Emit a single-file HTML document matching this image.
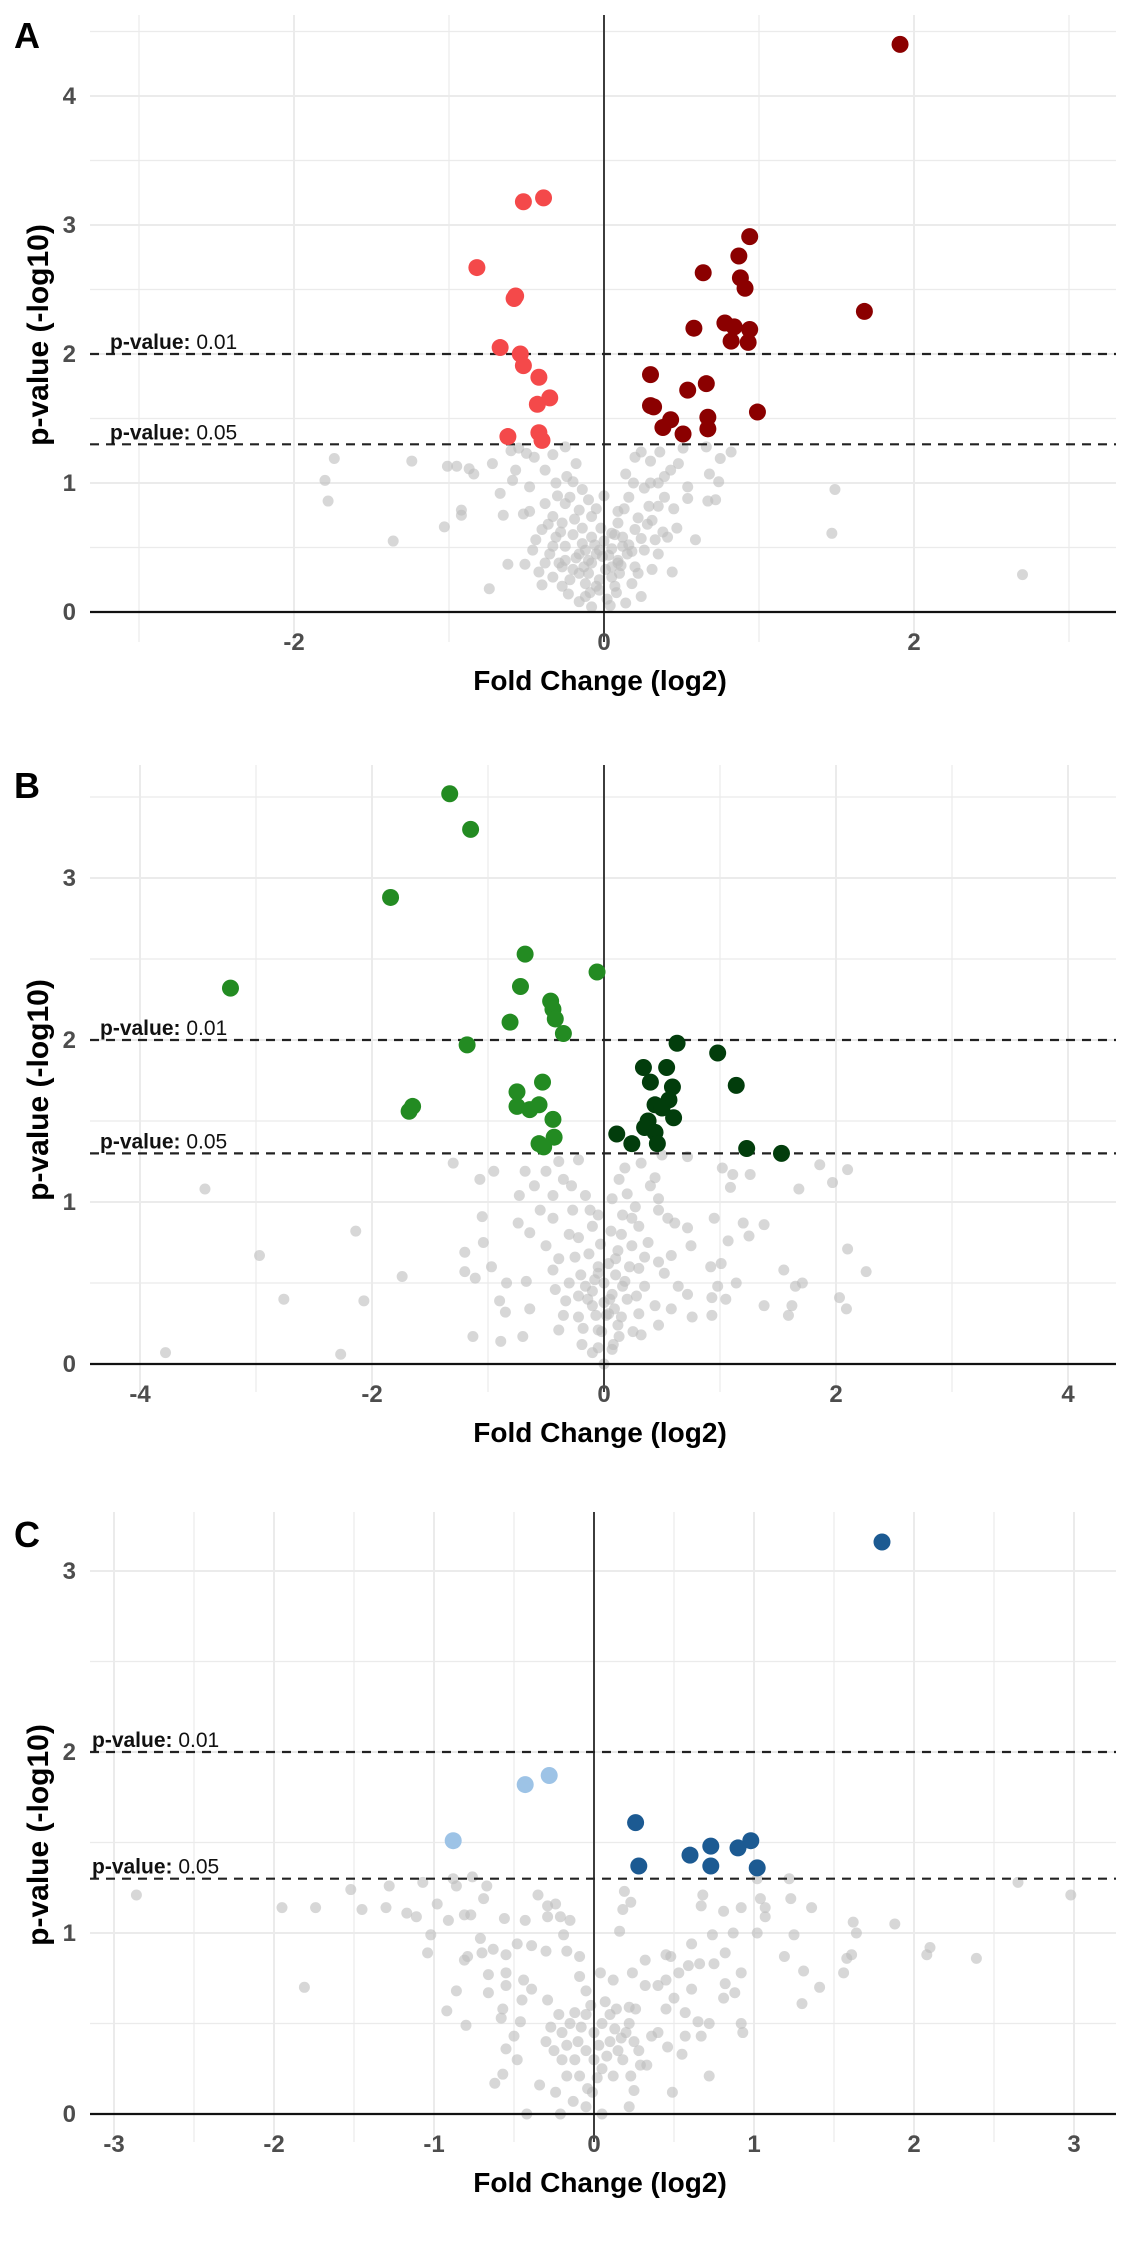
<!DOCTYPE html>
<html><head><meta charset="utf-8"><style>
html,body{margin:0;padding:0;background:#fff;}
svg{display:block;font-family:"Liberation Sans",Arial,sans-serif;}
</style></head><body>
<svg id="fig" width="1124" height="2244" viewBox="0 0 1124 2244" xmlns="http://www.w3.org/2000/svg"></svg>
<script>
// ---------- Panel A data ----------
const aTickX = [-2, 0, 2];
const aTickY = [0, 1, 2, 3, 4];
const aDown = [[-0.52,3.18],[-0.39,3.21],[-0.82,2.67],[-0.58,2.43],[-0.57,2.45],[-0.67,2.05],[-0.54,2.0],[-0.52,1.91],[-0.42,1.82],[-0.35,1.66],[-0.43,1.61],[-0.62,1.36],[-0.42,1.39],[-0.40,1.33]];
const aUp = [[1.91,4.4],[0.94,2.91],[0.87,2.76],[0.64,2.63],[0.88,2.59],[0.91,2.51],[1.68,2.33],[0.58,2.20],[0.78,2.24],[0.84,2.21],[0.94,2.19],[0.82,2.10],[0.93,2.09],[0.30,1.84],[0.54,1.72],[0.66,1.77],[0.30,1.60],[0.32,1.59],[0.99,1.55],[0.43,1.49],[0.38,1.43],[0.67,1.51],[0.67,1.42],[0.51,1.38]];
const aGrey = [[-1.74,1.19],[-1.24,1.17],[-1.80,1.02],[-1.78,0.86],[-1.36,0.55],[-1.01,1.13],[-0.95,1.13],[-0.87,1.11],[-0.84,1.07],[-0.72,1.15],[-0.67,0.92],[-0.92,0.79],[-0.92,0.75],[-1.03,0.66],[-0.74,0.18],[-0.62,0.37],[-0.51,0.37],[1.49,0.95],[1.47,0.61],[2.70,0.29],[0.68,1.07],[0.74,1.01],[0.75,1.19],[0.72,0.87],[0.67,0.86],[0.59,0.56],[0.44,0.31],[0.47,0.65],[0.54,0.88],[0.54,0.97],[0.82,1.24],[0.66,1.28],[0.51,1.27],[0.36,1.24],[0.30,1.17],[0.24,1.24],[0.14,1.07],[-0.55,1.27],[-0.50,1.23],[-0.33,1.22],[-0.25,1.28],[-0.18,1.15],[-0.20,1.01],[-0.59,1.02],[-0.57,1.10],[-0.38,1.10],[-0.31,1.00],[-0.22,0.89],[-0.52,0.76],[-0.48,0.78],[-0.65,0.75],[-0.40,0.64],[-0.27,0.69],[-0.14,0.65],[-0.08,0.58],[0.05,0.61],[0.12,0.58],[0.22,0.73],[0.24,0.57],[0.33,0.56],[0.16,0.89],[0.26,0.96],[0.35,1.00],[0.39,1.05],[0.43,1.10],[0.48,1.15],[0.35,0.82],[0.29,0.82],[0.18,0.47],[0.35,0.45],[0.09,0.38],[0.01,0.33],[-0.08,0.38],[-0.16,0.45],[-0.25,0.51],[-0.33,0.51],[-0.31,0.58],[-0.38,0.38],[-0.42,0.31],[-0.33,0.27],[-0.20,0.33],[-0.12,0.22],[-0.03,0.17],[0.07,0.20],[0.18,0.22],[0.24,0.12],[0.14,0.07],[-0.08,0.04],[-0.16,0.08],[-0.23,0.14],[-0.40,0.21],[-0.27,0.20],[0.05,0.27],[0.09,0.40],[-0.03,0.48],[-0.14,0.53],[-0.25,0.40],[-0.08,0.74],[-0.38,0.84],[-0.33,0.74],[-0.25,0.84],[-0.16,0.79],[-0.01,0.43],[0.12,0.51],[0.31,0.71],[0.39,0.89],[0.41,0.58],[0.20,0.35],[0.31,0.33],[0.09,0.69],[-0.14,0.95],[-0.10,0.87],[0.09,0.78],[0.20,0.64],[-0.48,0.97],[-0.46,0.48],[-0.29,0.38],[-0.16,0.30],[0.05,0.49],[-0.03,0.25],[-0.10,0.40],[-0.05,0.45],[0.0,0.55],[0.05,0.35],[-0.1,0.3],[0.1,0.3],[-0.2,0.6],[0.15,0.45],[-0.05,0.2],[0.02,0.1],[-0.12,0.12],[-0.6,1.25],[-0.45,1.2],[0.3,1.0],[0.2,1.2],[-0.18,0.42],[-0.06,0.52],[0.03,0.44],[0.11,0.36],[-0.22,0.25],[-0.13,0.35],[0.07,0.6],[0.16,0.52],[-0.28,0.62],[-0.35,0.45],[0.26,0.48],[0.22,0.3],[-0.02,0.65],[-0.09,0.15],[0.04,0.05],[-0.19,0.72],[0.13,0.8],[-0.3,0.9],[0.28,0.68],[-0.44,0.56],[0.38,0.62],[-0.05,0.8],[0.19,1.0],[-0.24,1.05],[0.0,0.9],[-0.36,0.68],[0.45,0.8],[-0.12,0.48],[0.08,0.15],[-0.27,0.35]];

// ---------- Panel B data ----------
const bTickX = [-4, -2, 0, 2, 4];
const bTickY = [0, 1, 2, 3];
const bDown = [[-1.33,3.52],[-1.15,3.30],[-1.84,2.88],[-0.68,2.53],[-0.06,2.42],[-3.22,2.32],[-0.72,2.33],[-0.46,2.24],[-0.44,2.19],[-0.42,2.13],[-0.35,2.04],[-0.81,2.11],[-1.18,1.97],[-0.53,1.74],[-0.75,1.68],[-0.75,1.59],[-0.64,1.57],[-0.56,1.60],[-1.68,1.56],[-1.65,1.59],[-0.44,1.51],[-0.43,1.40],[-0.56,1.36],[-0.52,1.34]];
const bUp = [[0.63,1.98],[0.98,1.92],[0.34,1.83],[0.54,1.83],[0.40,1.74],[0.59,1.71],[1.14,1.72],[0.56,1.63],[0.44,1.60],[0.50,1.58],[0.60,1.52],[0.38,1.50],[0.35,1.46],[0.44,1.43],[0.11,1.42],[0.24,1.36],[0.46,1.36],[1.23,1.33],[1.53,1.30]];
const bGrey = [[-3.44,1.08],[-3.78,0.07],[-2.97,0.67],[-2.76,0.40],[-2.27,0.06],[-2.14,0.82],[-2.07,0.39],[-1.74,0.54],[-1.30,1.24],[-1.07,1.14],[-0.95,1.19],[-1.05,0.91],[-1.04,0.75],[-1.20,0.69],[-1.20,0.57],[-1.11,0.53],[-0.97,0.60],[-0.84,0.50],[-0.90,0.39],[-0.85,0.32],[-1.13,0.17],[-0.89,0.14],[-0.70,0.17],[-0.64,0.34],[-0.67,0.51],[-0.74,0.87],[-0.64,0.81],[-0.73,1.04],[-0.68,1.19],[-0.50,1.19],[-0.39,1.25],[-0.22,1.26],[-0.35,1.14],[-0.44,1.04],[-0.27,0.95],[-0.44,0.90],[-0.50,0.73],[-0.39,0.65],[-0.44,0.58],[-0.42,0.46],[-0.33,0.39],[-0.22,0.29],[-0.39,0.21],[-0.19,0.12],[-0.10,0.07],[0.07,0.09],[0.13,0.17],[-0.05,0.21],[0.04,0.31],[-0.10,0.36],[-0.16,0.48],[-0.05,0.56],[-0.13,0.68],[-0.22,0.78],[-0.10,0.85],[-0.05,0.92],[-0.16,1.04],[0.07,1.02],[0.13,1.14],[0.18,1.21],[0.32,1.24],[0.50,1.29],[0.72,1.28],[0.44,1.15],[0.47,1.02],[0.27,0.97],[0.47,0.95],[0.61,0.87],[0.30,0.85],[0.15,0.80],[0.24,0.73],[0.38,0.75],[0.58,0.67],[0.47,0.63],[0.30,0.59],[0.18,0.51],[0.35,0.48],[0.52,0.56],[0.64,0.48],[0.72,0.43],[0.58,0.34],[0.44,0.36],[0.30,0.31],[0.47,0.24],[0.32,0.18],[0.15,0.29],[0.07,0.43],[0.10,0.65],[0.24,0.90],[0.75,0.73],[0.72,0.84],[0.95,0.90],[1.09,1.09],[1.11,1.17],[1.26,1.17],[1.02,1.21],[1.20,0.87],[1.25,0.79],[1.38,0.86],[1.07,0.76],[0.92,0.60],[1.01,0.62],[0.98,0.48],[1.14,0.50],[0.93,0.41],[1.05,0.40],[0.93,0.30],[0.76,0.29],[1.38,0.36],[1.55,0.58],[1.62,0.36],[1.59,0.30],[1.65,0.48],[1.71,0.50],[1.68,1.08],[1.86,1.23],[1.97,1.12],[2.10,1.20],[2.10,0.71],[2.03,0.41],[2.09,0.34],[2.26,0.57],[0.0,0.5],[0.05,0.4],[-0.05,0.6],[0.1,0.55],[-0.1,0.45],[0.02,0.3],[0.12,0.7],[-0.2,0.55],[0.2,0.4],[-0.02,0.2],[-0.3,0.8],[0.2,1.05],[-0.6,1.1],[0.0,0.0],[-0.05,0.1],[-0.08,0.52],[0.04,0.62],[0.09,0.34],[-0.14,0.4],[0.16,0.48],[-0.03,0.74],[0.22,0.6],[-0.25,0.66],[0.12,0.24],[-0.18,0.22],[0.06,0.82],[-0.3,0.5],[0.28,0.42],[0.0,0.38],[-0.12,0.95],[0.16,0.92],[-0.35,0.3],[0.35,0.66],[-0.07,0.3],[0.08,0.12],[-0.22,0.42],[0.25,0.2],[-0.55,0.95],[0.55,0.9],[-0.28,1.1],[0.4,1.1]];

// ---------- Panel C data ----------
const cTickX = [-3, -2, -1, 0, 1, 2, 3];
const cTickY = [0, 1, 2, 3];
const cDown = [[-0.43,1.82],[-0.28,1.87],[-0.88,1.51]];
const cUp = [[1.80,3.16],[0.26,1.61],[0.28,1.37],[0.60,1.43],[0.73,1.48],[0.73,1.37],[0.90,1.47],[0.98,1.51],[1.02,1.36]];
const cGrey = [[-2.86,1.21],[-1.95,1.14],[-1.74,1.14],[-1.52,1.24],[-1.45,1.13],[-1.30,1.14],[-1.28,1.26],[-1.17,1.11],[-1.11,1.09],[-1.07,1.28],[-0.98,1.16],[-0.88,1.30],[-0.86,1.26],[-0.76,1.31],[-0.67,1.26],[-0.69,1.19],[-0.81,1.10],[-0.77,1.10],[-0.91,1.07],[-0.56,1.08],[-0.43,1.07],[-0.35,1.21],[-0.29,1.15],[-0.24,1.16],[-0.29,1.09],[-0.21,1.09],[-0.15,1.07],[0.19,1.23],[0.23,1.17],[0.18,1.13],[0.68,1.21],[0.67,1.15],[0.81,1.12],[0.92,1.14],[1.04,1.19],[1.07,1.14],[1.07,1.09],[1.22,1.30],[1.23,1.19],[1.36,1.14],[1.62,1.06],[1.88,1.05],[2.65,1.28],[2.98,1.21],[1.02,1.30],[-1.02,0.99],[-1.04,0.89],[-0.81,0.85],[-0.79,0.87],[-0.70,0.89],[-0.63,0.91],[-0.55,0.88],[-0.48,0.94],[-0.39,0.93],[-0.30,0.90],[-0.17,0.90],[-0.09,0.87],[-0.19,0.99],[-0.71,0.97],[-1.81,0.70],[-0.86,0.68],[-0.92,0.57],[-0.80,0.49],[-0.66,0.77],[-0.55,0.78],[-0.66,0.67],[-0.55,0.71],[-0.44,0.74],[-0.39,0.69],[-0.29,0.63],[-0.45,0.63],[-0.57,0.58],[-0.58,0.53],[-0.46,0.51],[-0.50,0.43],[-0.55,0.36],[-0.48,0.30],[-0.57,0.22],[-0.62,0.17],[-0.34,0.16],[-0.24,0.12],[-0.17,0.21],[-0.09,0.21],[-0.01,0.12],[0.12,0.21],[0.23,0.21],[0.25,0.13],[0.22,0.04],[-0.05,0.04],[-0.13,0.07],[-0.21,0.0],[-0.42,0.0],[0.05,0.0],[-0.09,0.76],[-0.05,0.68],[0.04,0.78],[0.12,0.74],[0.24,0.78],[0.32,0.85],[0.45,0.88],[0.48,0.87],[0.32,0.71],[0.40,0.71],[0.45,0.74],[0.53,0.78],[0.59,0.82],[0.66,0.83],[0.75,0.83],[0.82,0.89],[0.92,0.78],[0.82,0.72],[0.88,0.67],[0.81,0.64],[0.61,0.69],[0.50,0.64],[0.45,0.58],[0.57,0.56],[0.65,0.51],[0.72,0.50],[0.92,0.50],[0.93,0.45],[0.67,0.43],[0.57,0.43],[0.40,0.45],[0.36,0.43],[0.46,0.37],[0.55,0.33],[0.33,0.27],[0.29,0.27],[0.49,0.12],[0.72,0.21],[1.19,0.87],[1.31,0.79],[1.41,0.70],[1.30,0.61],[1.56,0.78],[1.58,0.86],[1.61,0.88],[2.08,0.88],[2.10,0.92],[2.39,0.86],[1.64,1.00],[1.25,0.99],[1.02,1.00],[0.74,0.99],[0.87,1.00],[0.61,0.94],[0.16,1.01],[0.22,0.59],[0.26,0.58],[0.14,0.58],[-0.2,0.45],[-0.15,0.5],[-0.1,0.4],[-0.05,0.35],[0,0.45],[0.05,0.5],[0.1,0.4],[0.15,0.35],[0.2,0.45],[0.25,0.4],[-0.25,0.35],[-0.3,0.4],[0,0.3],[0.05,0.25],[-0.05,0.55],[0.1,0.55],[0.18,0.3],[-0.12,0.3],[0.22,0.5],[-0.2,0.3],[-0.08,0.48],[0.03,0.38],[0.13,0.47],[-0.17,0.38],[0.08,0.32],[-0.02,0.6],[0.17,0.42],[-0.27,0.48],[0.28,0.35],[-0.12,0.56],[0.07,0.62],[-0.22,0.55],[0.02,0.2],[-0.04,0.14]];

const threshY = [2, 1.3];
const threshLabel = ["0.01", "0.05"];

const NS = "http://www.w3.org/2000/svg";
const svg = document.getElementById("fig");
function mk(tag, attrs, parent) {
  const e = document.createElementNS(NS, tag);
  for (const k in attrs) e.setAttribute(k, attrs[k]);
  (parent || svg).appendChild(e);
  return e;
}

const panels = [
  {id:"a", letter:"A", x0:604, kx:155, y0:612, ky:129, top:15, bottom:642, xmin:-3, xmax:3, xstep:1, ymax:4.5,
   tickX:aTickX, tickY:aTickY, down:aDown, up:aUp, grey:aGrey, cDown:"#f4494a", cUp:"#8b0000", annX:110, letterY:48, ylabY:335},
  {id:"b", letter:"B", x0:604, kx:116, y0:1364, ky:162, top:765, bottom:1392, xmin:-4, xmax:4, xstep:1, ymax:3.5,
   tickX:bTickX, tickY:bTickY, down:bDown, up:bUp, grey:bGrey, cDown:"#238b22", cUp:"#023d0c", annX:100, letterY:798, ylabY:1090},
  {id:"c", letter:"C", x0:594, kx:160, y0:2114, ky:181, top:1512, bottom:2142, xmin:-3, xmax:3, xstep:0.5, ymax:3,
   tickX:cTickX, tickY:cTickY, down:cDown, up:cUp, grey:cGrey, cDown:"#9dc3e6", cUp:"#1c5a92", annX:92, letterY:1547, ylabY:1835}
];
const L = 90, R = 1116;

panels.forEach(p => {
  const sx = v => p.x0 + v * p.kx;
  const sy = v => p.y0 - v * p.ky;
  const g = mk("g", {});
  
  

  const grid = mk("g", {stroke:"#ebebeb"}, g);
  
  
  for (let v = 0; v <= p.ymax + 1e-9; v += 0.5) {
    const major = Math.abs(v - Math.round(v)) < 1e-9;
    mk("line", {x1:L, x2:R, y1:sy(v), y2:sy(v), "stroke-width": major ? 2 : 1.2}, grid);
  }
  for (let v = p.xmin; v <= p.xmax + 1e-9; v += p.xstep) {
    const major = p.tickX.some(t => Math.abs(t - v) < 1e-9);
    mk("line", {x1:sx(v), x2:sx(v), y1:p.top, y2:p.bottom, "stroke-width": major ? 2 : 1.2}, grid);
  }

  const gg = mk("g", {fill:"#bdbdbd", "fill-opacity":"0.6"}, g);
  
  
  p.grey.forEach(d => {
    const c = mk("circle", {cx:sx(d[0]), cy:sy(d[1]), r:5.5}, gg);
    
    
  });

  const ax = mk("line", {x1:L, x2:R, y1:sy(0), y2:sy(0), stroke:"#111", "stroke-width":2.2}, g);
  
  
  const ay = mk("line", {x1:sx(0), x2:sx(0), y1:p.top, y2:p.bottom, stroke:"#111", "stroke-width":1.6}, g);
  
  

  threshY.forEach((t, i) => {
    const dl = mk("line", {x1:L, x2:R, y1:sy(t), y2:sy(t), stroke:"#222", "stroke-width":2.2, "stroke-dasharray":"9 7"}, g);
    
    
    const tx = mk("text", {x:p.annX, y:sy(t) - 5, "font-size":21, fill:"#111"}, g);
    
    
    const b = mk("tspan", {"font-weight":"bold"}, tx); b.textContent = "p-value:";
    const n = mk("tspan", {}, tx); n.textContent = " " + threshLabel[i];
  });

  const gd = mk("g", {fill:p.cDown}, g);
  
  
  p.down.forEach(d => {
    const c = mk("circle", {cx:sx(d[0]), cy:sy(d[1]), r:8.5}, gd);
    
    
  });
  const gu = mk("g", {fill:p.cUp}, g);
  
  
  p.up.forEach(d => {
    const c = mk("circle", {cx:sx(d[0]), cy:sy(d[1]), r:8.5}, gu);
    
    
  });

  p.tickY.forEach(t => {
    const e = mk("text", {x:76, y:sy(t) + 8, "text-anchor":"end", "font-size":24, "font-weight":"bold", fill:"#4d4d4d"}, g);
    
    
    e.textContent = t;
  });
  p.tickX.forEach(t => {
    const e = mk("text", {x:sx(t), y:sy(0) + 38, "text-anchor":"middle", "font-size":24, "font-weight":"bold", fill:"#4d4d4d"}, g);
    
    
    e.textContent = t;
  });

  const xt = mk("text", {x:600, y:sy(0) + 78, "text-anchor":"middle", "font-size":28, "font-weight":"bold", fill:"#000"}, g);
  
  
  xt.textContent = "Fold Change (log2)";
  const yt = mk("text", {x:0, y:0, transform:"translate(48," + p.ylabY + ") rotate(-90)", "text-anchor":"middle", "font-size":30, "font-weight":"bold", fill:"#000"}, g);
  
  
  yt.textContent = "p-value (-log10)";

  const lt = mk("text", {x:14, y:p.letterY, "font-size":36, "font-weight":"bold", fill:"#000"}, g);
  
  
  lt.textContent = p.letter;
});
</script>
</body></html>
